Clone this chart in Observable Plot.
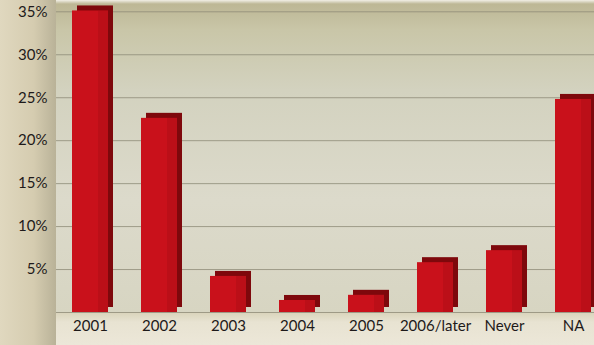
<!DOCTYPE html>
<html>
<head>
<meta charset="utf-8">
<script src="https://cdn.jsdelivr.net/npm/d3@7"></script>
<script src="https://cdn.jsdelivr.net/npm/@observablehq/plot@0.6"></script>
<style>
  html, body { margin: 0; padding: 0; background: #e3dcc6; }
  #wrap { position: relative; width: 594px; height: 345px; overflow: hidden; }
  .bg { position: absolute; }
  #left { left: 0; top: 0; width: 56px; height: 345px;
    background: linear-gradient(to right, #e0d8bf 0%, #d5ccb0 60%, #b9b298 100%); }
  #plotbg { left: 56px; top: 0; width: 538px; height: 312px;
    background: linear-gradient(to bottom, #f2efe6 0px, #bdb795 4px, #c9c6a8 30px, #d3d2bf 90px, #dcdacb 200px, #d7d5c2 312px); }
  #bottom { left: 56px; top: 312px; width: 538px; height: 33px;
    background: linear-gradient(to bottom, #d9d3ba 0px, #e8e3d2 10px, #ece7d8 33px); }
  #chart { position: absolute; left: 0; top: 0; }
</style>
</head>
<body>
<div id="wrap">
  <div class="bg" id="left"></div>
  <div class="bg" id="plotbg"></div>
  <div class="bg" id="bottom"></div>
  <div id="chart"></div>
</div>
<script>
const categories = ["2001", "2002", "2003", "2004", "2005", "2006/later", "Never", "NA"];
const shares = [35.1, 22.6, 4.2, 1.4, 2.0, 5.8, 7.2, 24.8];
const yTicks = [5, 10, 15, 20, 25, 30, 35];

const data = categories.map((c, i) => ({category: c, share: shares[i]}));

const chart = Plot.plot({
  width: 594,
  height: 345,
  marginLeft: 56,
  marginRight: 0,
  marginTop: 1,
  marginBottom: 33,
  style: {background: "transparent", fontFamily: "Lato, 'Open Sans', sans-serif", fontSize: "15px", color: "#1e1a1a"},
  x: {domain: categories, range: [70, 592.6], paddingInner: 0.48, paddingOuter: 0, label: null, tickSize: 0, tickPadding: 8},
  y: {domain: [0, 36.2], label: null, ticks: yTicks, tickFormat: d => d + "%", tickSize: 0, tickPadding: 9},
  marks: [
    Plot.ruleY(yTicks, {stroke: "#8f8c78", strokeWidth: 1, strokeOpacity: 0.8}),
    Plot.ruleY([0], {stroke: "#9e9a86", strokeWidth: 1}),
    Plot.barY(data, {x: "category", y: "share", fill: "#7e080c", dx: 5, dy: -5}),
    Plot.barY(data, {x: "category", y: "share", fill: "#c9111b"}),
    Plot.barY(data, {x: "category", y1: 0, y2: "share", fill: "#a10c13", fillOpacity: 0.35, insetLeft: 26})
  ]
});
document.getElementById("chart").appendChild(chart);
</script>
</body>
</html>
